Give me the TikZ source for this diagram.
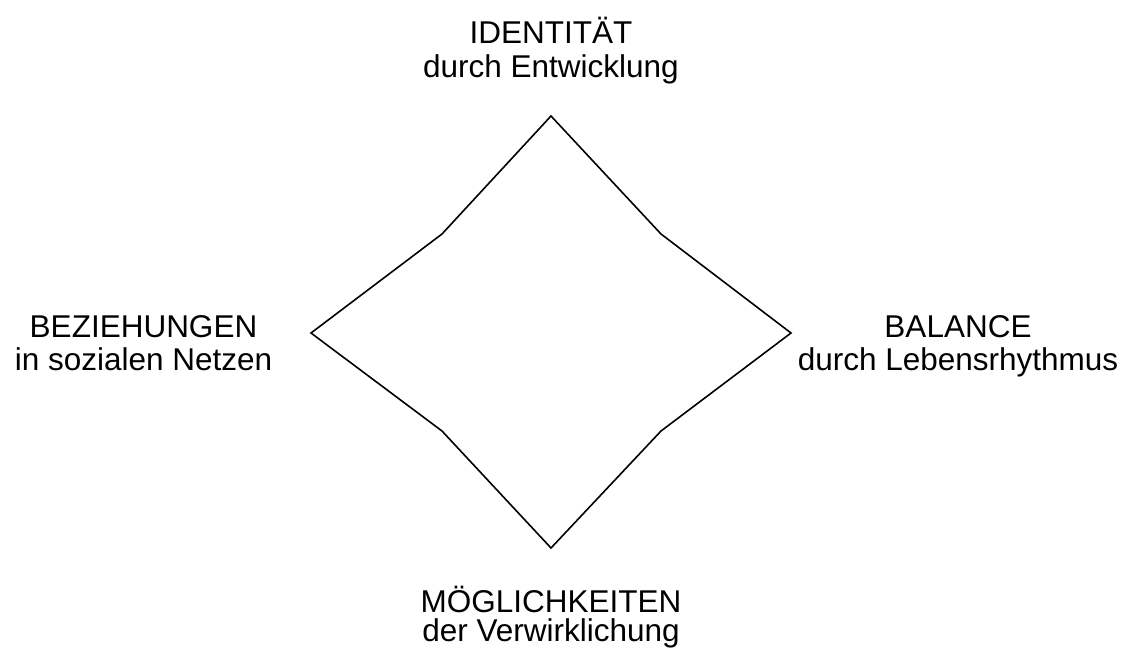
\documentclass[tikz,border=0pt]{standalone}
\usepackage{fontspec}
\setmainfont{Liberation Sans}
\begin{document}
\begin{tikzpicture}[x=1pt,y=-1pt,
  lbl/.style={anchor=base,inner sep=0pt,font=\fontsize{31.5}{34}\selectfont},
  star/.style={draw=black,line width=1.6pt,line join=miter}]
\useasboundingbox (0,0) rectangle (1130,653);
\coordinate (T) at (551,116);
\coordinate (UL) at (442,234);
\coordinate (L) at (311,333);
\coordinate (LL) at (442,431);
\coordinate (B) at (551,548);
\coordinate (LR) at (661,431);
\coordinate (R) at (791,333);
\coordinate (UR) at (661,234);
\draw[star] (T) -- (UR) -- (R) -- (LR) -- (B) -- (LL) -- (L) -- (UL) -- cycle;
\node[lbl] (t1) at (551,43) {IDENTITÄT};
\node[lbl] (t2) at (551,77) {durch Entwicklung};
\node[lbl] (l1) at (143.5,337) {BEZIEHUNGEN};
\node[lbl] (l2) at (143.5,370) {in sozialen Netzen};
\node[lbl] (r1) at (958,337) {BALANCE};
\node[lbl] (r2) at (958,370) {durch Lebensrhythmus};
\node[lbl] (b1) at (551,612) {MÖGLICHKEITEN};
\node[lbl] (b2) at (551,641) {der Verwirklichung};
\end{tikzpicture}
\end{document}
